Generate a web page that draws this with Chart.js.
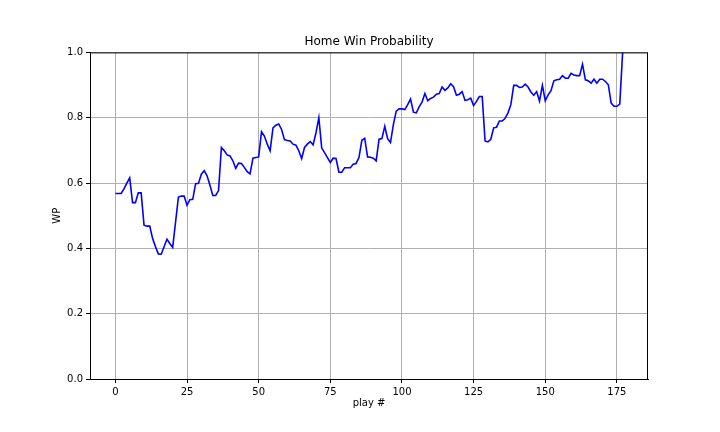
<!DOCTYPE html>
<html>
<head>
<meta charset="utf-8">
<script src="https://cdn.jsdelivr.net/npm/chart.js@4.4.0/dist/chart.umd.min.js"></script>
<style>
  body { margin: 0; background: #fff; }
</style>
</head>
<body>
<canvas id="wpChart" width="720" height="432"></canvas>
<script>
// home win probability per play
const wp = [
  0.568, 0.568, 0.568, 0.582, 0.600, 0.616, 0.540, 0.540, 0.570, 0.570,
  0.471, 0.468, 0.468, 0.430, 0.405, 0.383, 0.382, 0.405, 0.428, 0.415,
  0.403, 0.480, 0.557, 0.560, 0.560, 0.532, 0.549, 0.550, 0.598, 0.599,
  0.627, 0.638, 0.622, 0.593, 0.562, 0.562, 0.577, 0.709, 0.699, 0.686,
  0.683, 0.668, 0.645, 0.661, 0.660, 0.648, 0.635, 0.628, 0.676, 0.678,
  0.680, 0.757, 0.744, 0.719, 0.699, 0.769, 0.777, 0.781, 0.764, 0.733,
  0.730, 0.729, 0.719, 0.716, 0.699, 0.675, 0.709, 0.719, 0.727, 0.717,
  0.754, 0.800, 0.707, 0.693, 0.678, 0.663, 0.676, 0.675, 0.633, 0.633,
  0.647, 0.647, 0.647, 0.658, 0.660, 0.678, 0.731, 0.737, 0.680, 0.679,
  0.676, 0.668, 0.734, 0.736, 0.774, 0.736, 0.724, 0.779, 0.820, 0.827,
  0.827, 0.825, 0.840, 0.857, 0.817, 0.815, 0.833, 0.848, 0.874, 0.852,
  0.859, 0.863, 0.872, 0.874, 0.894, 0.884, 0.891, 0.904, 0.895, 0.869,
  0.872, 0.880, 0.853, 0.855, 0.860, 0.837, 0.850, 0.865, 0.865, 0.729,
  0.726, 0.734, 0.769, 0.771, 0.790, 0.790, 0.798, 0.815, 0.840, 0.899,
  0.899, 0.893, 0.894, 0.903, 0.894, 0.879, 0.869, 0.880, 0.851, 0.899,
  0.852, 0.870, 0.883, 0.913, 0.916, 0.918, 0.929, 0.921, 0.921, 0.936,
  0.931, 0.929, 0.929, 0.964, 0.916, 0.913, 0.906, 0.918, 0.906, 0.918,
  0.918, 0.911, 0.901, 0.845, 0.835, 0.835, 0.842, 1.000
];
const plays = wp.map((_, i) => i);

const xTicks = [0, 25, 50, 75, 100, 125, 150, 175];
const yTicks = [0, 0.2, 0.4, 0.6, 0.8, 1.0];

const font = { family: "DejaVu Sans", size: 10 };

// matplotlib draws a full box round the axes and centres the title over them
const boxPlugin = {
  id: "box",
  afterLayout(chart) {
    chart.titleBlock.left = chart.chartArea.left;
    chart.titleBlock.right = chart.chartArea.right;
  },
  afterDatasetsDraw(chart) {
    const { ctx, chartArea: a } = chart;
    ctx.save();
    ctx.strokeStyle = "#000";
    ctx.lineWidth = 1;
    ctx.strokeRect(a.left + 0.5, a.top + 0.5, a.right - a.left - 1, a.bottom - a.top);
    ctx.restore();
  },
};

const xMax = plays[plays.length - 1];
const margin = xMax * 0.05;

new Chart(document.getElementById("wpChart"), {
  type: "line",
  data: {
    datasets: [
      {
        data: plays.map((p, i) => ({ x: p, y: wp[i] })),
        borderColor: "#0000ff",
        borderWidth: 1.6,
        pointRadius: 0,
        tension: 0,
        fill: false,
      },
    ],
  },
  options: {
    responsive: false,
    animation: false,
    layout: { padding: { left: 0, right: 72, top: 0, bottom: 0 } },
    plugins: {
      legend: { display: false },
      tooltip: { enabled: false },
      title: {
        display: true,
        text: "Home Win Probability",
        color: "#000",
        font: { family: "DejaVu Sans", size: 12, weight: "normal" },
        padding: { top: 35, bottom: 3 },
      },
    },
    scales: {
      x: {
        type: "linear",
        min: -margin,
        max: xMax + margin,
        afterBuildTicks: (scale) => {
          scale.ticks = xTicks.map((v) => ({ value: v }));
        },
        afterFit: (scale) => {
          scale.height = 53;
        },
        ticks: { color: "#000", font: font, padding: 3, maxRotation: 0 },
        grid: { color: "#b0b0b0", tickColor: "#000", tickLength: 4 },
        border: { color: "#000" },
        title: {
          display: true,
          text: "play #",
          color: "#000",
          font: font,
          padding: { top: 0, bottom: 23 },
        },
      },
      y: {
        min: 0,
        max: 1,
        afterBuildTicks: (scale) => {
          scale.ticks = yTicks.map((v) => ({ value: v }));
        },
        afterFit: (scale) => {
          scale.width = 90;
        },
        ticks: {
          color: "#000",
          font: font,
          padding: 3,
          callback: (v) => v.toFixed(1),
        },
        grid: { color: "#b0b0b0", tickColor: "#000", tickLength: 4 },
        border: { color: "#000" },
        title: {
          display: true,
          text: "WP",
          color: "#000",
          font: font,
          padding: { top: 51, bottom: 0 },
        },
      },
    },
  },
  plugins: [boxPlugin],
});
</script>
</body>
</html>
